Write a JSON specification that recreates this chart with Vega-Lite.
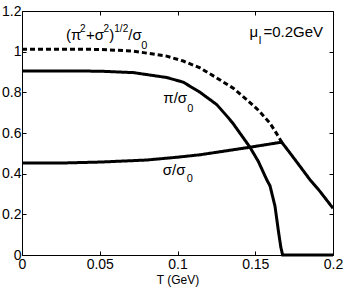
{
  "$schema": "https://vega.github.io/schema/vega-lite/v6.json",
  "width": 311,
  "height": 244,
  "autosize": "none",
  "padding": {"left": 22, "top": 11, "right": 13, "bottom": 33},
  "background": "white",
  "config": {
    "view": {"stroke": "#000", "strokeWidth": 1},
    "font": "Liberation Sans",
    "axis": {
      "grid": false,
      "domainColor": "#000",
      "tickColor": "#000",
      "labelColor": "#000",
      "titleColor": "#000",
      "labelFont": "Liberation Sans",
      "titleFont": "Liberation Sans",
      "labelFontSize": 14,
      "titleFontWeight": "normal",
      "labelFlush": false,
      "labelOverlap": false
    }
  },
  "datasets": {
    "curves": [
      {"T": 0, "v": 1.012, "s": "mod"},
      {"T": 0.03, "v": 1.012, "s": "mod"},
      {"T": 0.05, "v": 1.011, "s": "mod"},
      {"T": 0.0716, "v": 1.003, "s": "mod"},
      {"T": 0.093, "v": 0.978, "s": "mod"},
      {"T": 0.1037, "v": 0.954, "s": "mod"},
      {"T": 0.1145, "v": 0.92, "s": "mod"},
      {"T": 0.1252, "v": 0.871, "s": "mod"},
      {"T": 0.1359, "v": 0.82, "s": "mod"},
      {"T": 0.1445, "v": 0.764, "s": "mod"},
      {"T": 0.152, "v": 0.712, "s": "mod"},
      {"T": 0.1595, "v": 0.648, "s": "mod"},
      {"T": 0.1648, "v": 0.584, "s": "mod"},
      {"T": 0.167, "v": 0.555, "s": "mod"},
      {"T": 0, "v": 0.905, "s": "pi"},
      {"T": 0.03, "v": 0.905, "s": "pi"},
      {"T": 0.05, "v": 0.904, "s": "pi"},
      {"T": 0.0716, "v": 0.897, "s": "pi"},
      {"T": 0.093, "v": 0.873, "s": "pi"},
      {"T": 0.1037, "v": 0.85, "s": "pi"},
      {"T": 0.1145, "v": 0.8, "s": "pi"},
      {"T": 0.1252, "v": 0.74, "s": "pi"},
      {"T": 0.1327, "v": 0.675, "s": "pi"},
      {"T": 0.1359, "v": 0.645, "s": "pi"},
      {"T": 0.1466, "v": 0.53, "s": "pi"},
      {"T": 0.152, "v": 0.46, "s": "pi"},
      {"T": 0.1574, "v": 0.37, "s": "pi"},
      {"T": 0.1595, "v": 0.34, "s": "pi"},
      {"T": 0.1627, "v": 0.24, "s": "pi"},
      {"T": 0.1648, "v": 0.123, "s": "pi"},
      {"T": 0.1664, "v": 0.04, "s": "pi"},
      {"T": 0.1676, "v": 0, "s": "pi"},
      {"T": 0.2, "v": 0, "s": "pi"},
      {"T": 0, "v": 0.453, "s": "sigma"},
      {"T": 0.029, "v": 0.453, "s": "sigma"},
      {"T": 0.05, "v": 0.457, "s": "sigma"},
      {"T": 0.08, "v": 0.467, "s": "sigma"},
      {"T": 0.1, "v": 0.481, "s": "sigma"},
      {"T": 0.1145, "v": 0.493, "s": "sigma"},
      {"T": 0.125, "v": 0.505, "s": "sigma"},
      {"T": 0.1466, "v": 0.53, "s": "sigma"},
      {"T": 0.167, "v": 0.555, "s": "sigma"},
      {"T": 0.1723, "v": 0.502, "s": "sigma"},
      {"T": 0.1788, "v": 0.436, "s": "sigma"},
      {"T": 0.1852, "v": 0.37, "s": "sigma"},
      {"T": 0.1916, "v": 0.313, "s": "sigma"},
      {"T": 0.2, "v": 0.23, "s": "sigma"}
    ],
    "labels": [
      {"T": 0.0283, "v": 1.055, "text": "(π", "role": "main"},
      {"T": 0.04116, "v": 1.055, "text": "+", "role": "main"},
      {"T": 0.04682, "v": 1.055, "text": "σ", "role": "main"},
      {"T": 0.05608, "v": 1.055, "text": ")", "role": "main"},
      {"T": 0.06836, "v": 1.055, "text": "/", "role": "main"},
      {"T": 0.07106, "v": 1.055, "text": "σ", "role": "main"},
      {"T": 0.0373, "v": 1.097, "text": "2", "role": "sup"},
      {"T": 0.05241, "v": 1.097, "text": "2", "role": "sup"},
      {"T": 0.05936, "v": 1.097, "text": "1/2", "role": "sup"},
      {"T": 0.07666, "v": 1.015, "text": "0", "role": "sub"},
      {"T": 0.0909, "v": 0.749, "text": "π/σ", "role": "main"},
      {"T": 0.1063, "v": 0.705, "text": "0", "role": "sub"},
      {"T": 0.0905, "v": 0.393, "text": "σ/σ", "role": "main"},
      {"T": 0.1059, "v": 0.3605, "text": "0", "role": "sub"},
      {"T": 0.1463, "v": 1.0707, "text": "μ", "role": "main"},
      {"T": 0.1521, "v": 1.0377, "text": "I", "role": "sub"},
      {"T": 0.1553, "v": 1.0707, "text": "=0.2GeV", "role": "main"}
    ]
  },
  "layer": [
    {
      "data": {"name": "curves"},
      "mark": {"type": "line", "color": "#000", "strokeWidth": 3},
      "encoding": {
        "x": {
          "field": "T", "type": "quantitative",
          "scale": {"domain": [0, 0.2], "nice": false, "zero": false},
          "axis": {"orient": "bottom", "values": [0, 0.05, 0.1, 0.15, 0.2], "format": "~g",
                   "tickSize": -4, "labelPadding": 6, "title": "T (GeV)", "titleFontSize": 12, "titlePadding": 3}
        },
        "y": {
          "field": "v", "type": "quantitative",
          "scale": {"domain": [0, 1.2], "nice": false},
          "axis": {"orient": "left", "values": [0, 0.2, 0.4, 0.6, 0.8, 1, 1.2], "format": "~g",
                   "tickSize": -4, "labelPadding": 5, "title": null}
        },
        "detail": {"field": "s"},
        "strokeDash": {
          "field": "s", "type": "nominal",
          "scale": {"domain": ["mod", "pi", "sigma"], "range": [[5, 3], [1, 0], [1, 0]]},
          "legend": null
        }
      }
    },
    {
      "data": {"name": "labels"},
      "transform": [{"filter": "datum.role === 'main'"}],
      "mark": {"type": "text", "align": "left", "baseline": "alphabetic", "fontSize": 15, "color": "#000"},
      "encoding": {
        "x": {"field": "T", "type": "quantitative",
              "axis": {"orient": "top", "values": [0, 0.05, 0.1, 0.15, 0.2], "labels": false, "domain": false, "tickSize": -4, "title": null}},
        "y": {"field": "v", "type": "quantitative",
              "axis": {"orient": "right", "values": [0, 0.2, 0.4, 0.6, 0.8, 1, 1.2], "labels": false, "domain": false, "tickSize": -4, "title": null}},
        "text": {"field": "text"}
      }
    },
    {
      "data": {"name": "labels"},
      "transform": [{"filter": "datum.role === 'sup'"}],
      "mark": {"type": "text", "align": "left", "baseline": "alphabetic", "fontSize": 10, "color": "#000"},
      "encoding": {
        "x": {"field": "T", "type": "quantitative", "axis": null},
        "y": {"field": "v", "type": "quantitative", "axis": null},
        "text": {"field": "text"}
      }
    },
    {
      "data": {"name": "labels"},
      "transform": [{"filter": "datum.role === 'sub'"}],
      "mark": {"type": "text", "align": "left", "baseline": "alphabetic", "fontSize": 11, "color": "#000"},
      "encoding": {
        "x": {"field": "T", "type": "quantitative", "axis": null},
        "y": {"field": "v", "type": "quantitative", "axis": null},
        "text": {"field": "text"}
      }
    }
  ]
}
